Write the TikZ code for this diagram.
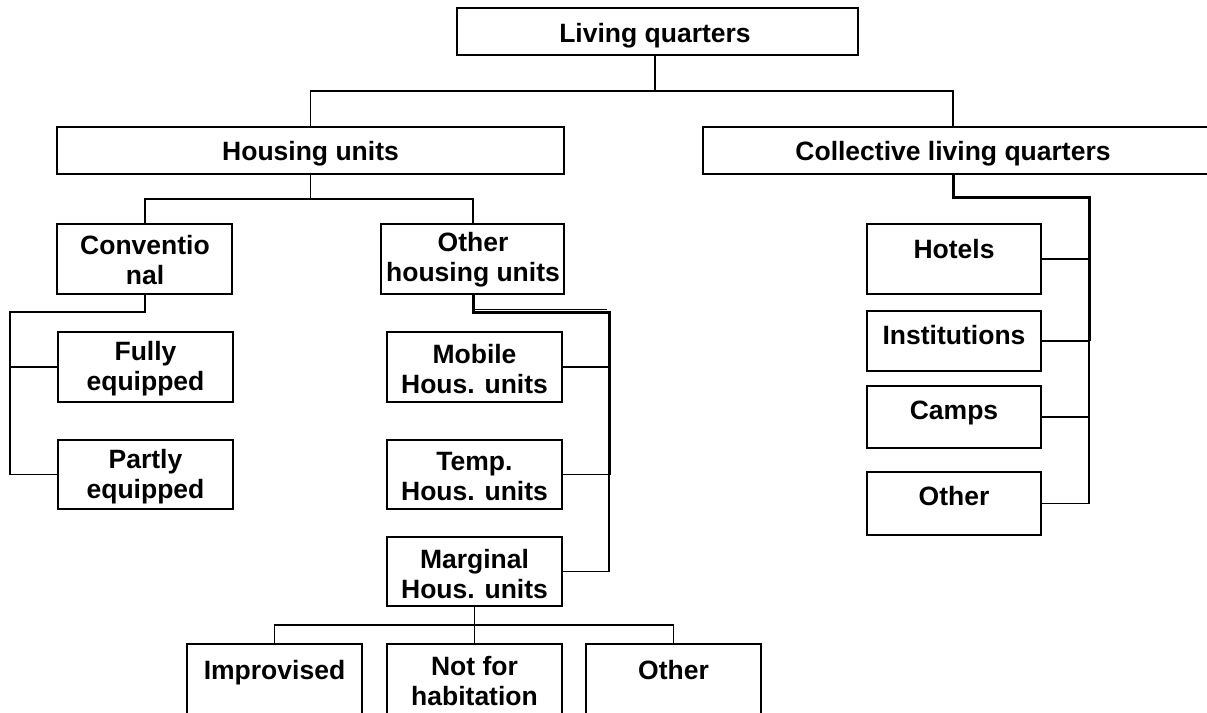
\documentclass[tikz,border=0pt]{standalone}
\usepackage{fontspec}
\setmainfont{Liberation Sans}
\begin{document}
\begin{tikzpicture}[x=1pt,y=-1pt,
  box/.style={draw, line width=1.8pt, inner sep=0pt},
  lab/.style={font=\fontsize{26.5}{30}\selectfont\bfseries, align=center, inner sep=0pt},
  conn/.style={line width=1.4pt},
  heavy/.style={line width=3pt},
  ]
\useasboundingbox (0,0) rectangle (1207,712);
\clip (0,0) rectangle (1207,712);
% boxes
\node[box, minimum width=401pt, minimum height=47pt] (lq) at (657.5,31.5) {};
\node[box, minimum width=507pt, minimum height=47pt] (hu) at (310.5,150.5) {};
\node[box, minimum width=527pt, minimum height=47pt] (clq) at (966.5,150.5) {};
\node[box, minimum width=175pt, minimum height=70pt] (conv) at (144.5,259) {};
\node[box, minimum width=183pt, minimum height=70pt] (ohu) at (472.5,259) {};
\node[box, minimum width=175pt, minimum height=70pt] (fully) at (145.5,367) {};
\node[box, minimum width=175pt, minimum height=69pt] (partly) at (145.5,474.5) {};
\node[box, minimum width=175pt, minimum height=70pt] (mobile) at (474.5,367) {};
\node[box, minimum width=175pt, minimum height=69pt] (temp) at (474.5,474.5) {};
\node[box, minimum width=175pt, minimum height=69pt] (marg) at (474.5,571.5) {};
\node[box, minimum width=175pt, minimum height=96pt] (impr) at (274.5,692) {};
\node[box, minimum width=175pt, minimum height=96pt] (notfor) at (474.5,692) {};
\node[box, minimum width=175pt, minimum height=96pt] (otherB) at (673.5,692) {};
\node[box, minimum width=174pt, minimum height=70pt] (hotels) at (954,259) {};
\node[box, minimum width=174pt, minimum height=60pt] (inst) at (954,341) {};
\node[box, minimum width=174pt, minimum height=62pt] (camps) at (954,417) {};
\node[box, minimum width=174pt, minimum height=63pt] (otherR) at (954,503.5) {};
% labels
\node[lab, anchor=base] (lqT) at (655,42) {Living quarters};
\node[lab, anchor=base] (huT) at (310.5,160) {Housing units};
\node[lab, anchor=base] (clqT) at (953,160) {Collective living quarters};
\node[lab] (convT) at (145,260) {Conventio\\nal};
\node[lab] (ohuT) at (473,260) {Other\\housing units};
\node[lab] (fullyT) at (145.5,369) {Fully\\equipped};
\node[lab] (partlyT) at (145.5,477) {Partly\\equipped};
\node[lab] (mobileT) at (474.5,369) {Mobile\\Hous. units};
\node[lab] (tempT) at (474.5,477) {Temp.\\Hous. units};
\node[lab] (margT) at (474.5,574) {Marginal\\Hous. units};
\node[lab, anchor=base] (imprT) at (274.5,679) {Improvised};
\node[lab] (notforT) at (474.5,681) {Not for\\habitation};
\node[lab, anchor=base] (otherBT) at (673.5,679) {Other};
\node[lab, anchor=base] (hotelsT) at (954,258) {Hotels};
\node[lab, anchor=base] (instT) at (954,344) {Institutions};
\node[lab, anchor=base] (campsT) at (954,419) {Camps};
\node[lab, anchor=base] (otherRT) at (954,505) {Other};
% junction coordinates
\coordinate (j1) at (655,91);
\coordinate (j2) at (310.5,199);
\coordinate (cbus) at (1089,197);
\coordinate (obus) at (609,312);
\coordinate (obus2) at (607,309);
\coordinate (lbus) at (10,312);
\coordinate (mbus) at (474.5,625);
% top level
\draw[conn] (lqT |- lq.south) -- (j1);
\draw[conn] (hu.north) |- (j1) -| (clqT |- clq.north);
% housing units
\draw[conn] (hu.south) -- (j2);
\draw[conn] (conv.north -| convT) |- (j2) -| (ohu.north -| ohuT);
% conventional
\draw[conn, line width=1.8pt] (conv.south -| convT) |- (lbus) |- (partly.west);
\draw[conn] (fully.west) -- (fully.west -| lbus);
% other housing units
\draw[heavy] (ohu.south -| ohuT) |- (obus) -- (obus |- temp.east);
\draw[line width=0.8pt] ([xshift=2pt]obus2 -| ohuT) -- (obus2);
\draw[conn] (obus |- temp.east) |- (marg.east);
\draw[conn] (mobile.east) -- (mobile.east -| obus);
\draw[conn] (temp.east) -- (temp.east -| obus);
% marginal
\draw[conn] (marg.south) -- (notfor.north);
\draw[conn] (impr.north) |- (mbus) -| (otherB.north);
% collective
\draw[heavy] (clqT |- clq.south) |- (cbus) -- (cbus |- inst.east);
\draw[conn] (cbus |- inst.east) |- (otherR.east);
\draw[conn] (hotels.east) -- (hotels.east -| cbus);
\draw[conn] (inst.east) -- (inst.east -| cbus);
\draw[conn] (camps.east) -- (camps.east -| cbus);
\end{tikzpicture}
\end{document}
